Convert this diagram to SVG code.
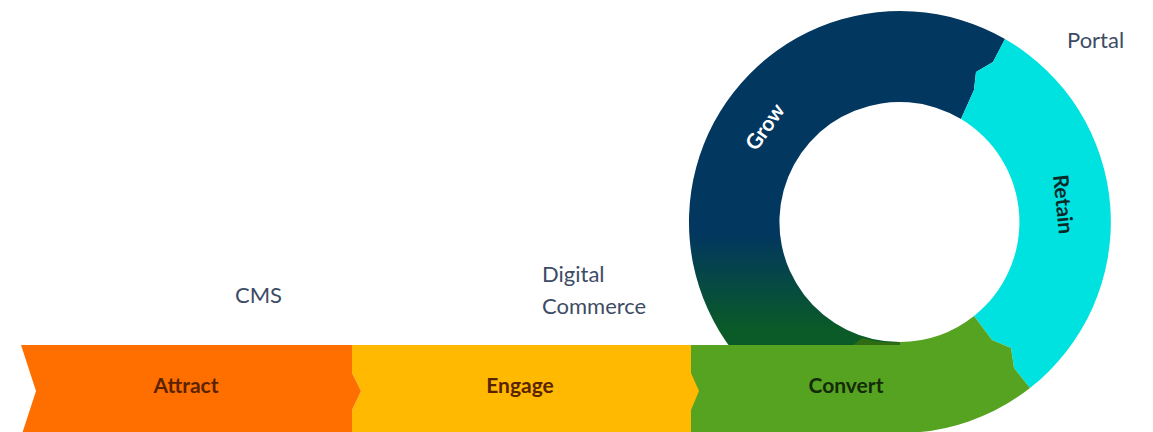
<svg xmlns="http://www.w3.org/2000/svg" width="1153" height="432" viewBox="0 0 1153 432">
<style>
.lbl{font-family:Lato,"Liberation Sans",sans-serif;font-size:22px;fill:#3E4B65}
.stage{font-family:Lato,"Liberation Sans",sans-serif;font-size:21px;font-weight:700;text-anchor:middle}
</style>
<defs>
<linearGradient id="growGrad" gradientUnits="userSpaceOnUse" x1="0" y1="235" x2="0" y2="330">
<stop offset="0" stop-color="#02375F"/>
<stop offset="1" stop-color="#0A5B27"/>
</linearGradient>
</defs>
<rect width="1153" height="432" fill="#ffffff"/>
<g id="grow">
<path d="M1005,39 A211,211 0 1 0 900,433 L900,342 A120,120 0 1 1 961,119 L974,90 L976,72 L993,62 Z" fill="url(#growGrad)"/>
<path d="M853,345 L862,338 A120,120 0 0 0 900,342 L900,345 Z" fill="#2F6B12"/>
<text class="stage" fill="#ffffff" transform="translate(771,131) rotate(-55)">Grow</text>
</g>
<g id="retain">
<path d="M1005,39 A211,211 0 0 1 1030,388 L1014,368 L1011,348 L992,340 L974,316 A120,120 0 0 0 961,119 L974,90 L976,72 L993,62 Z" fill="#00E2E0"/>
<text class="stage" fill="#0B2A2A" transform="translate(1056,205) rotate(84)">Retain</text>
</g>
<g id="convert">
<path d="M1030,388 A211,211 0 0 1 900,433 L900,342 A120,120 0 0 0 974,316 L992,340 L1011,348 L1014,368 Z" fill="#56A321"/>
<rect x="690" y="345" width="212" height="92" fill="#56A321"/>
<text class="stage" x="846" y="393" fill="#132B08">Convert</text>
</g>
<g id="engage">
<path d="M352,345 L691,345 L691,373 L699,391 L691,410 L691,437 L352,437 L352,410 L361,391 L352,373 Z" fill="#FFB900"/>
<text class="stage" x="520" y="393" fill="#5A2300">Engage</text>
</g>
<g id="attract">
<path d="M21,345 L352,345 L352,373 L361,391 L352,410 L352,437 L21,437 L36,391 Z" fill="#FF6F00"/>
<text class="stage" x="186" y="393" fill="#5A2300">Attract</text>
</g>
<g id="labels">
<text class="lbl" x="235" y="303">CMS</text>
<text class="lbl" x="542" y="282">Digital</text>
<text class="lbl" x="542" y="314">Commerce</text>
<text class="lbl" x="1067" y="48">Portal</text>
</g>
<g id="connectors"/>
</svg>
